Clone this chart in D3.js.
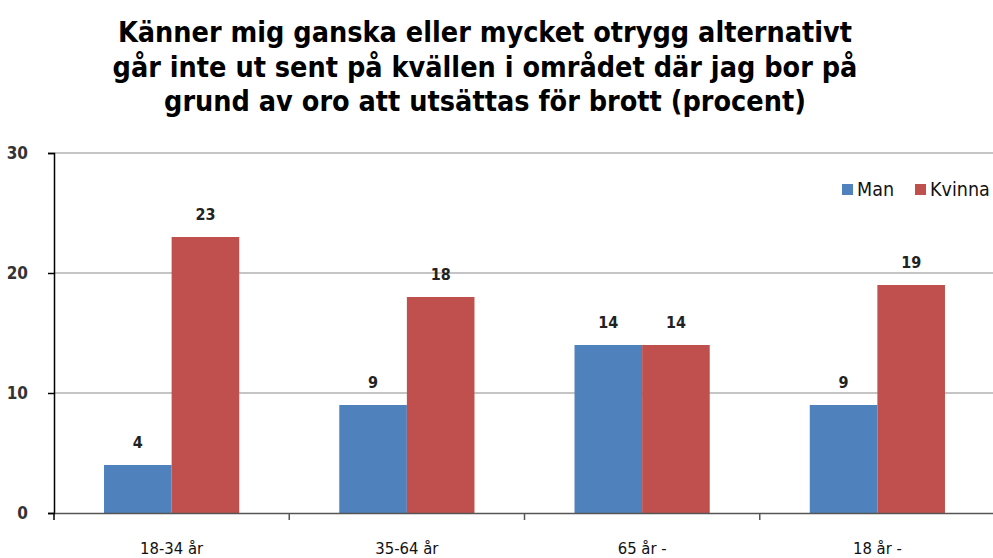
<!DOCTYPE html>
<html>
<head>
<meta charset="utf-8">
<script src="https://cdn.jsdelivr.net/npm/d3@7"></script>
<style>
  body { margin: 0; background: #fff; }
  text { font-family: "DejaVu Sans Condensed", "DejaVu Sans", sans-serif; }
</style>
</head>
<body>
<svg id="chart" width="993" height="558"></svg>
<script>
const categories = ["18-34 år", "35-64 år", "65 år -", "18 år -"];
const seriesNames = ["Man", "Kvinna"];
const manValues = [4, 9, 14, 9];
const kvinnaValues = [23, 18, 14, 19];
const yTicks = [0, 10, 20, 30];
const titleLines = [
  "Känner mig ganska eller mycket otrygg alternativt",
  "går inte ut sent på kvällen i området där jag bor på",
  "grund av oro att utsättas för brott (procent)"
];

const colors = { Man: "#4F81BD", Kvinna: "#C0504D" };
const svg = d3.select("#chart");
const plotLeft = 54, plotRight = 995, plotTop = 153, plotBottom = 513;

const data = categories.map((c, i) => ({ cat: c, Man: manValues[i], Kvinna: kvinnaValues[i] }));

const x = d3.scaleBand().domain(categories).range([plotLeft, plotRight]);
const xInner = d3.scaleBand().domain(seriesNames)
    .range([0, x.bandwidth()]).paddingOuter(0.74).paddingInner(0);
const y = d3.scaleLinear().domain([0, 30]).range([plotBottom, plotTop]);

// title
svg.append("g").selectAll("text")
    .data(titleLines)
    .enter().append("text")
    .attr("x", 485)
    .attr("y", (d, i) => 42 + i * 34.5)
    .attr("text-anchor", "middle")
    .attr("font-size", 28.5)
    .attr("font-weight", "bold")
    .attr("fill", "#000")
    .text(d => d);

// gridlines
svg.append("g").selectAll("line")
    .data(yTicks.filter(t => t > 0))
    .enter().append("line")
    .attr("x1", plotLeft).attr("x2", plotRight)
    .attr("y1", d => y(d)).attr("y2", d => y(d))
    .attr("stroke", "#8a8a8a").attr("stroke-width", 1);

// bars
const groups = svg.append("g").selectAll("g")
    .data(data)
    .enter().append("g")
    .attr("transform", d => `translate(${x(d.cat)},0)`);

groups.selectAll("rect")
    .data(d => seriesNames.map(s => ({ s, v: d[s] })))
    .enter().append("rect")
    .attr("x", d => xInner(d.s))
    .attr("width", xInner.bandwidth())
    .attr("y", d => y(d.v))
    .attr("height", d => y(0) - y(d.v))
    .attr("fill", d => colors[d.s]);

groups.selectAll("text")
    .data(d => seriesNames.map(s => ({ s, v: d[s] })))
    .enter().append("text")
    .attr("x", d => xInner(d.s) + xInner.bandwidth() / 2)
    .attr("y", d => y(d.v) - 17)
    .attr("text-anchor", "middle")
    .attr("font-size", 16)
    .attr("font-weight", "bold")
    .attr("fill", "#222")
    .text(d => d.v);

// y axis
const yAxis = svg.append("g")
    .attr("transform", `translate(${plotLeft},0)`)
    .call(d3.axisLeft(y).tickValues(yTicks).tickSize(6).tickPadding(20));
yAxis.select(".domain").attr("stroke", "#000").attr("stroke-width", 1.5);
yAxis.selectAll(".tick line").attr("stroke", "#000").attr("stroke-width", 1.5);
yAxis.selectAll(".tick text")
    .attr("font-size", 17).attr("font-weight", "bold").attr("fill", "#333")
    .attr("font-family", "'DejaVu Sans Condensed', sans-serif");

// x axis
const xAxis = svg.append("g")
    .attr("transform", `translate(0,${plotBottom})`)
    .call(d3.axisBottom(x).tickSize(0));
xAxis.select(".domain").attr("stroke", "#555").attr("stroke-width", 1.5);
xAxis.selectAll(".tick text")
    .attr("y", 41).attr("dy", 0)
    .attr("font-size", 16.5).attr("fill", "#111")
    .attr("font-family", "'DejaVu Sans Condensed', sans-serif");
// category separator ticks
svg.append("g").selectAll("line")
    .data(categories)
    .enter().append("line")
    .attr("x1", d => x(d)).attr("x2", d => x(d))
    .attr("y1", plotBottom).attr("y2", plotBottom + 7)
    .attr("stroke", d => d === categories[0] ? "#000" : "#555")
    .attr("stroke-width", 1.5);

// legend
const legend = svg.append("g").attr("transform", "translate(842,184)");
const lx = [0, 73];
seriesNames.forEach((s, i) => {
  legend.append("rect").attr("x", lx[i]).attr("y", 0)
      .attr("width", 11).attr("height", 11).attr("fill", colors[s]);
  legend.append("text").attr("x", lx[i] + 15).attr("y", 11.5)
      .attr("font-size", 19.5).attr("fill", "#111").text(s);
});
</script>
</body>
</html>
